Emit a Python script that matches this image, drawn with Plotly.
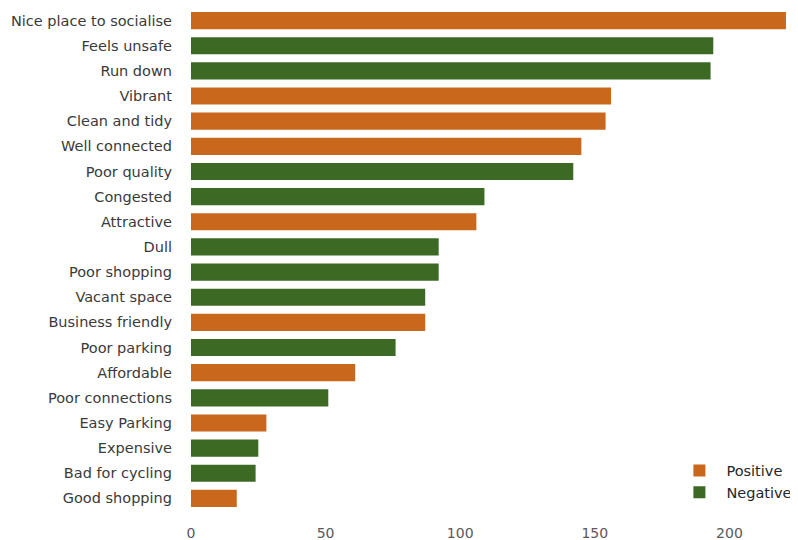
import plotly.graph_objects as go

categories = ["Nice place to socialise", "Feels unsafe", "Run down", "Vibrant", "Clean and tidy",
              "Well connected", "Poor quality", "Congested", "Attractive", "Dull", "Poor shopping",
              "Vacant space", "Business friendly", "Poor parking", "Affordable", "Poor connections",
              "Easy Parking", "Expensive", "Bad for cycling", "Good shopping"]
values = [221, 194, 193, 156, 154, 145, 142, 109, 106, 92, 92, 87, 87, 76, 61, 51, 28, 25, 24, 17]
sentiment = ["Positive", "Negative", "Negative", "Positive", "Positive",
             "Positive", "Negative", "Negative", "Positive", "Negative", "Negative",
             "Negative", "Positive", "Negative", "Positive", "Negative",
             "Positive", "Negative", "Negative", "Positive"]
x_ticks = [0, 50, 100, 150, 200]

colors = {"Positive": "#C9671C", "Negative": "#3C6A25"}

fig = go.Figure()
for s in ["Positive", "Negative"]:
    cats = [c for c, t in zip(categories, sentiment) if t == s]
    vals = [v for v, t in zip(values, sentiment) if t == s]
    fig.add_trace(go.Bar(
        y=cats, x=vals, orientation="h", name=s,
        marker=dict(color=colors[s], line=dict(width=0)),
    ))

font_family = "'DejaVu Sans', 'Open Sans', sans-serif"
fig.update_layout(
    width=798, height=540,
    margin=dict(l=183, r=9, t=0, b=37),
    paper_bgcolor="white", plot_bgcolor="white",
    barmode="relative", bargap=0.32,
    font=dict(family=font_family, size=14, color="#404040"),
    xaxis=dict(range=[0, 225.1], tickvals=x_ticks, showgrid=False, zeroline=False,
               showline=False, ticks="", ticklabelstandoff=12,
               tickfont=dict(size=14, color="#595959")),
    yaxis=dict(categoryorder="array", categoryarray=categories, autorange="reversed",
               showgrid=False, showline=False, ticks="", ticklabelstandoff=18,
               tickfont=dict(size=14.5, color="#3A3A3A")),
    legend=dict(x=0.7944, y=0.005, xanchor="left", yanchor="bottom",
                itemwidth=44, bgcolor="rgba(255,255,255,0)",
                font=dict(size=14.5, color="#262626"), tracegroupgap=0),
    showlegend=True,
)

fig.write_html("out.html")
